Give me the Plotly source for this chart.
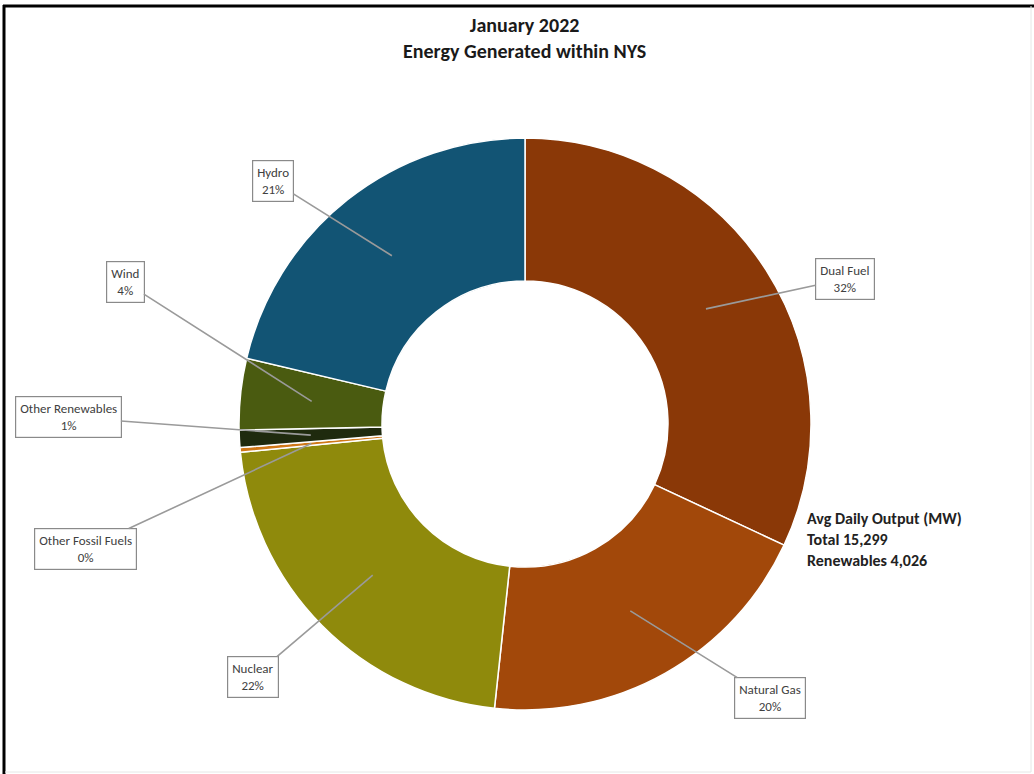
import math
import plotly.graph_objects as go

# ---- data (average daily output, MW) ----
sources = ["Dual Fuel", "Natural Gas", "Nuclear", "Other Fossil Fuels",
           "Other Renewables", "Wind", "Hydro"]
output_mw = [4890, 3020, 3323, 40, 150, 616, 3260]
pct_labels = ["32%", "20%", "22%", "0%", "1%", "4%", "21%"]
colors = ["#8a3807", "#a2480a", "#8f8a0c", "#d07818",
          "#1f2a0e", "#4a5b10", "#125474"]
title_lines = ["January 2022", "Energy Generated within NYS"]
summary_lines = ["Avg Daily Output (MW)", "Total 15,299", "Renewables 4,026"]

# label box centres (pixels) - layout only
box_px = {
    "Dual Fuel": (845, 279),
    "Natural Gas": (770, 698),
    "Nuclear": (253, 677),
    "Other Fossil Fuels": (85, 549),
    "Other Renewables": (68, 417),
    "Wind": (125, 282),
    "Hydro": (273, 181),
}

W, H = 1034, 774
cx, cy, R = 525, 424, 286  # pie centre / radius in pixels

FONT = "Carlito, 'Liberation Sans Narrow', Calibri, Lato, 'Open Sans', sans-serif"

fig = go.Figure(go.Pie(
    labels=sources,
    values=output_mw,
    hole=0.5,
    sort=False,
    direction="clockwise",
    rotation=0,
    marker=dict(colors=colors, line=dict(color="white", width=1.5)),
    textinfo="none",
    hoverinfo="label+value+percent",
    showlegend=False,
    domain=dict(x=[(cx - R) / W, (cx + R) / W],
                y=[1 - (cy + R) / H, 1 - (cy - R) / H]),
))

annotations = []
total = sum(output_mw)
cum = 0
for name, val, pct in zip(sources, output_mw, pct_labels):
    mid = (cum + val / 2) / total * 2 * math.pi
    cum += val
    r = 0.75 * R
    tx = cx + r * math.sin(mid)
    ty = cy - r * math.cos(mid)
    bx, by = box_px[name]
    annotations.append(dict(
        x=tx / W, y=1 - ty / H, xref="paper", yref="paper",
        ax=bx - tx, ay=by - ty, axref="pixel", ayref="pixel",
        text=f"{name}<br>{pct}",
        showarrow=True, arrowhead=0, arrowwidth=1.6, arrowcolor="#9a9a9a",
        font=dict(family=FONT, size=13, color="#404040"),
        bgcolor="white", bordercolor="#8a8a8a", borderwidth=1.2, borderpad=4,
        align="center",
    ))

annotations.append(dict(
    x=0.5076, y=1 - 38 / H, xref="paper", yref="paper",
    text=f"<b>{title_lines[0]}</b><br><b>{title_lines[1]}</b>",
    showarrow=False, font=dict(family=FONT, size=20, color="#1a1a1a"),
    align="center", xanchor="center", yanchor="middle",
))
annotations.append(dict(
    x=805 / W, y=1 - 539 / H, xref="paper", yref="paper",
    text="<br>".join(f"<b>{s}</b>" for s in summary_lines),
    showarrow=False, font=dict(family=FONT, size=16, color="#222222"),
    align="left", xanchor="left", yanchor="middle",
))

shapes = [
    dict(type="line", xref="paper", yref="paper", x0=4 / W, x1=4 / W, y0=0, y1=1 - 5 / H,
         line=dict(color="black", width=3)),
    dict(type="line", xref="paper", yref="paper", x0=3 / W, x1=1, y0=1 - 6 / H, y1=1 - 6 / H,
         line=dict(color="black", width=3)),
    dict(type="line", xref="paper", yref="paper", x0=1031 / W, x1=1031 / W, y0=2 / H, y1=1 - 6 / H,
         line=dict(color="#e6e6e6", width=1)),
    dict(type="line", xref="paper", yref="paper", x0=5 / W, x1=1031 / W, y0=2 / H, y1=2 / H,
         line=dict(color="#e6e6e6", width=1)),
]

fig.update_layout(
    width=W, height=H,
    margin=dict(l=0, r=0, t=0, b=0),
    paper_bgcolor="white", plot_bgcolor="white",
    annotations=annotations, shapes=shapes,
    font=dict(family=FONT),
)

fig.write_html("out.html")
